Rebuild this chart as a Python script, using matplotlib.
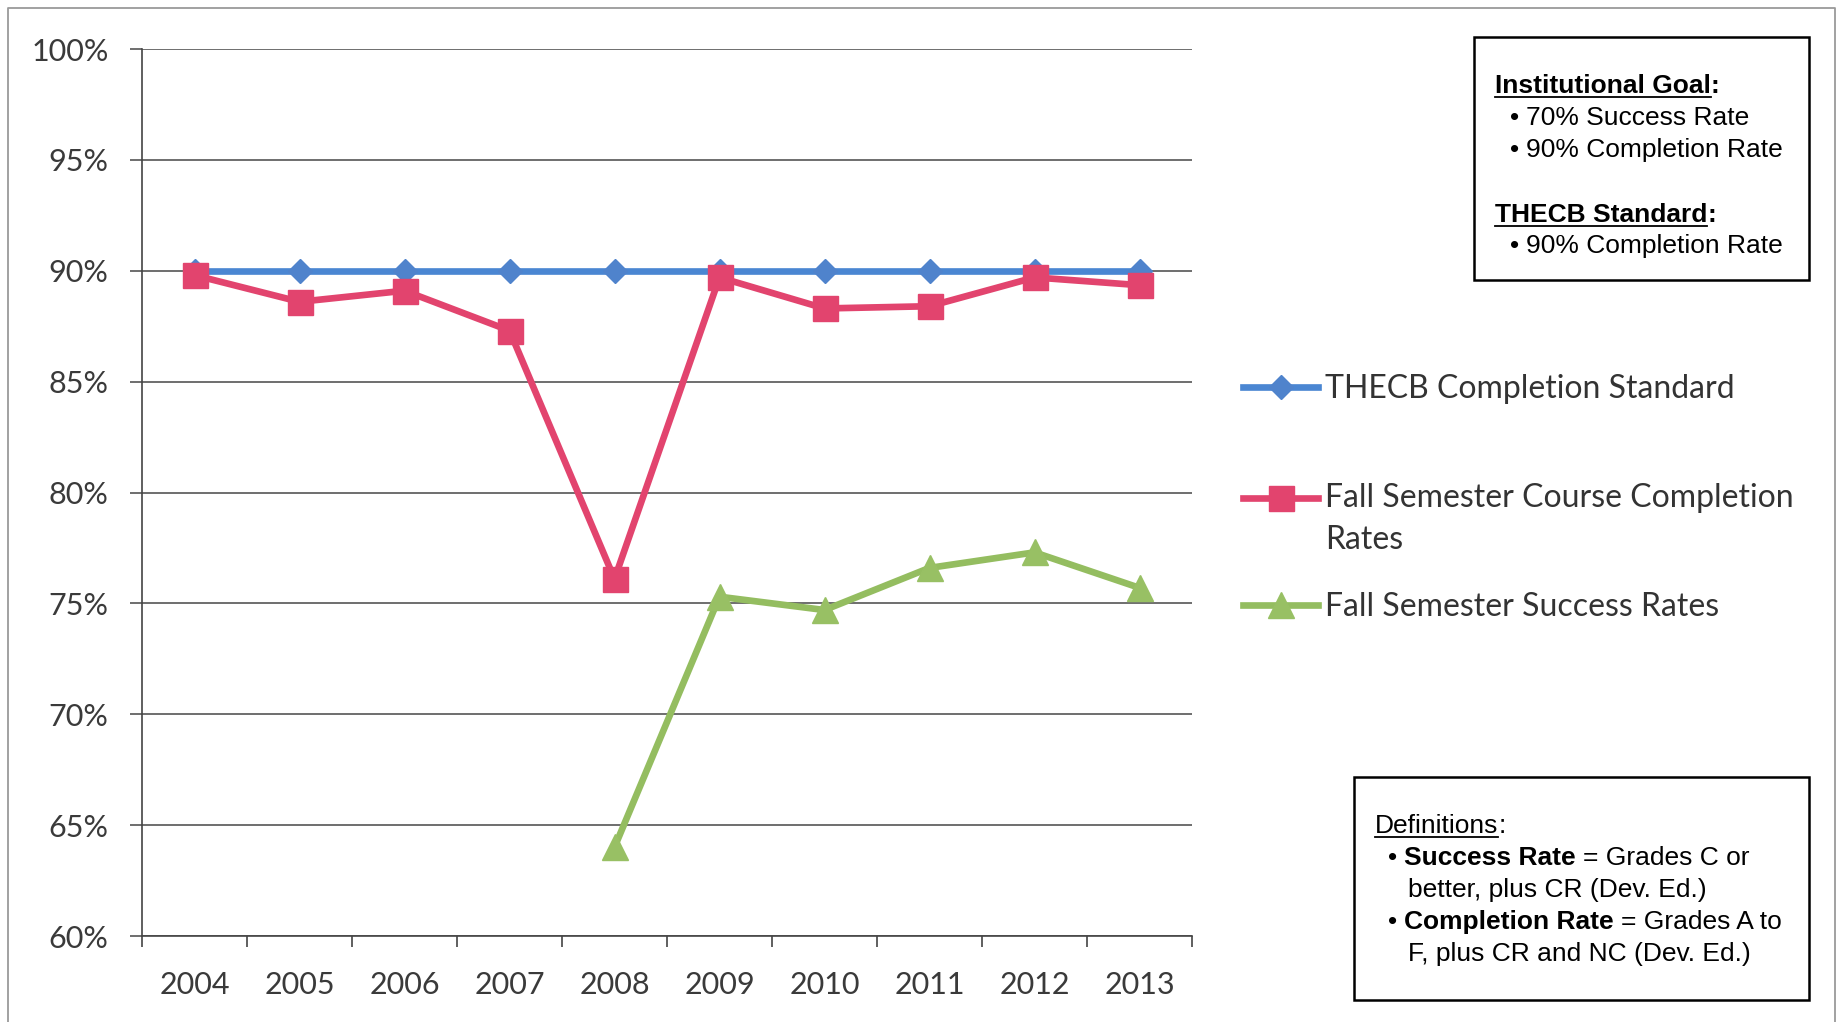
import numpy as np
import matplotlib
matplotlib.use("Agg")
import matplotlib.pyplot as plt
from matplotlib.lines import Line2D
from matplotlib.patches import Rectangle

# data
years = ["2004", "2005", "2006", "2007", "2008", "2009", "2010", "2011", "2012", "2013"]
thecb_standard = [90.0, 90.0, 90.0, 90.0, 90.0, 90.0, 90.0, 90.0, 90.0, 90.0]
completion_rates = [89.8, 88.6, 89.1, 87.3, 76.1, 89.7, 88.3, 88.4, 89.7, 89.35]
success_rates = [np.nan, np.nan, np.nan, np.nan, 64.0, 75.3, 74.7, 76.6, 77.3, 75.7]
y_ticks = [60, 65, 70, 75, 80, 85, 90, 95, 100]
series_labels = ["THECB Completion Standard",
                 "Fall Semester Course Completion\nRates",
                 "Fall Semester Success Rates"]

BLUE = "#4A86D2"
RED = "#E2446E"
GREEN = "#94BD60"
W, H = 1841, 1022


def fx(px):
    return px / W


def fy(py):
    return 1 - py / H


fig = plt.figure(figsize=(W / 100, H / 100), dpi=100)
ax = fig.add_axes([fx(142), fy(936), fx(1192) - fx(142), fy(49) - fy(936)])

x = np.arange(len(years))
l1, = ax.plot(x, thecb_standard, color=BLUE, lw=4.8, marker="D", ms=12,
              mfc="#4F83CC", mec="#4F83CC", zorder=3)
l2, = ax.plot(x, completion_rates, color=RED, lw=4.8, marker="s", ms=18,
              mfc=RED, mec=RED, zorder=4)
l3, = ax.plot(x, success_rates, color=GREEN, lw=4.8, marker="^", ms=19,
              mfc="#98C064", mec="#98C064", zorder=3)

ax.set_xlim(-0.5, 9.5)
ax.set_ylim(60, 100)
ax.set_xticks(x)
ax.set_xticklabels(years, fontsize=22, family="Lato", color="#3a3a3a")
ax.set_xticks(np.arange(-0.5, 10, 1), minor=True)
ax.tick_params(axis="x", which="major", length=0, pad=25)
ax.tick_params(axis="x", which="minor", length=8, width=1.2, color="#444444", direction="out")
ax.set_yticks(y_ticks)
ax.set_yticklabels([f"{v}%" for v in y_ticks], fontsize=22, family="Lato", color="#3a3a3a")
ax.tick_params(axis="y", length=9, width=1.2, color="#555555", pad=15)

ax.yaxis.grid(True, color="#555555", lw=1.2)
ax.set_axisbelow(True)
for s in ["top", "right"]:
    ax.spines[s].set_visible(False)
for s in ["left", "bottom"]:
    ax.spines[s].set_color("#444444")
    ax.spines[s].set_linewidth(1.2)

# legend, one entry at a time so rows sit like the original
legend_rows = [389, 519, 607]
for handle, label, row in zip([l1, l2, l3], series_labels, legend_rows):
    leg = fig.legend([handle], [label], loc="center left",
                     bbox_to_anchor=(fx(1243), fy(row)), frameon=False,
                     borderpad=0, borderaxespad=0, handlelength=2.35,
                     handletextpad=0.22, labelspacing=0,
                     prop={"family": "Lato", "size": 23}, labelcolor="#333333")
    if "\n" in label:
        leg.get_texts()[0].set_linespacing(1.5)
        h = leg.legend_handles[0]
        h.set_ydata(np.asarray(h.get_ydata()) + 15.5)

# page border
fig.add_artist(Line2D([fx(8), fx(8), fx(1835), fx(1835)], [0, fy(8), fy(8), 0],
                      transform=fig.transFigure, color="#9a9a9a", lw=1.3))

# text boxes
fig.add_artist(Rectangle((fx(1474), fy(280)), fx(1809) - fx(1474), fy(37) - fy(280),
                         transform=fig.transFigure, fill=False, ec="black", lw=1.8))
fig.add_artist(Rectangle((fx(1354), fy(1000)), fx(1809) - fx(1354), fy(777) - fy(1000),
                         transform=fig.transFigure, fill=False, ec="black", lw=1.8))

FS = 19
underlined = []


def rich_line(xp, yp, parts):
    # parts: (text, weight, gap_before_in_spaces, underline)
    prev = None
    for text, weight, gap, ul in parts:
        kw = dict(fontsize=FS, family="Liberation Sans", fontweight=weight, color="black")
        if prev is None:
            t = fig.text(fx(xp), fy(yp), text, va="baseline", ha="left", **kw)
        else:
            t = fig.add_artist(plt.Annotation(text, xy=(1, 0), xycoords=prev,
                                              xytext=(gap * 0.278 * FS, 0),
                                              textcoords="offset points",
                                              va="bottom", ha="left", **kw))
        if ul:
            underlined.append((t, yp))
        prev = t


rich_line(1495, 93, [("Institutional Goal", "bold", 0, True), (":", "bold", 0, False)])
rich_line(1510, 125, [("•", "normal", 0, False), ("70% Success Rate", "normal", 1, False)])
rich_line(1510, 157, [("•", "normal", 0, False), ("90% Completion Rate", "normal", 1, False)])
rich_line(1495, 222, [("THECB Standard", "bold", 0, True), (":", "bold", 0, False)])
rich_line(1510, 253, [("•", "normal", 0, False), ("90% Completion Rate", "normal", 1, False)])

rich_line(1375, 833, [("Definitions", "normal", 0, True), (":", "normal", 0, False)])
rich_line(1388, 865, [("•", "normal", 0, False), ("Success Rate", "bold", 1, False),
                      ("= Grades C or", "normal", 1, False)])
rich_line(1408, 897, [("better, plus CR (Dev. Ed.)", "normal", 0, False)])
rich_line(1388, 929, [("•", "normal", 0, False), ("Completion Rate", "bold", 1, False),
                      ("= Grades A to", "normal", 1, False)])
rich_line(1408, 961, [("F, plus CR and NC (Dev. Ed.)", "normal", 0, False)])

fig.canvas.draw()
r = fig.canvas.get_renderer()
for t, yp in underlined:
    bb = t.get_window_extent(r)
    yu = fy(yp + 4)
    fig.add_artist(Line2D([bb.x0 / W, bb.x1 / W], [yu, yu], transform=fig.transFigure,
                          color="black", lw=1.3))

fig.savefig("out.png", dpi=100)
